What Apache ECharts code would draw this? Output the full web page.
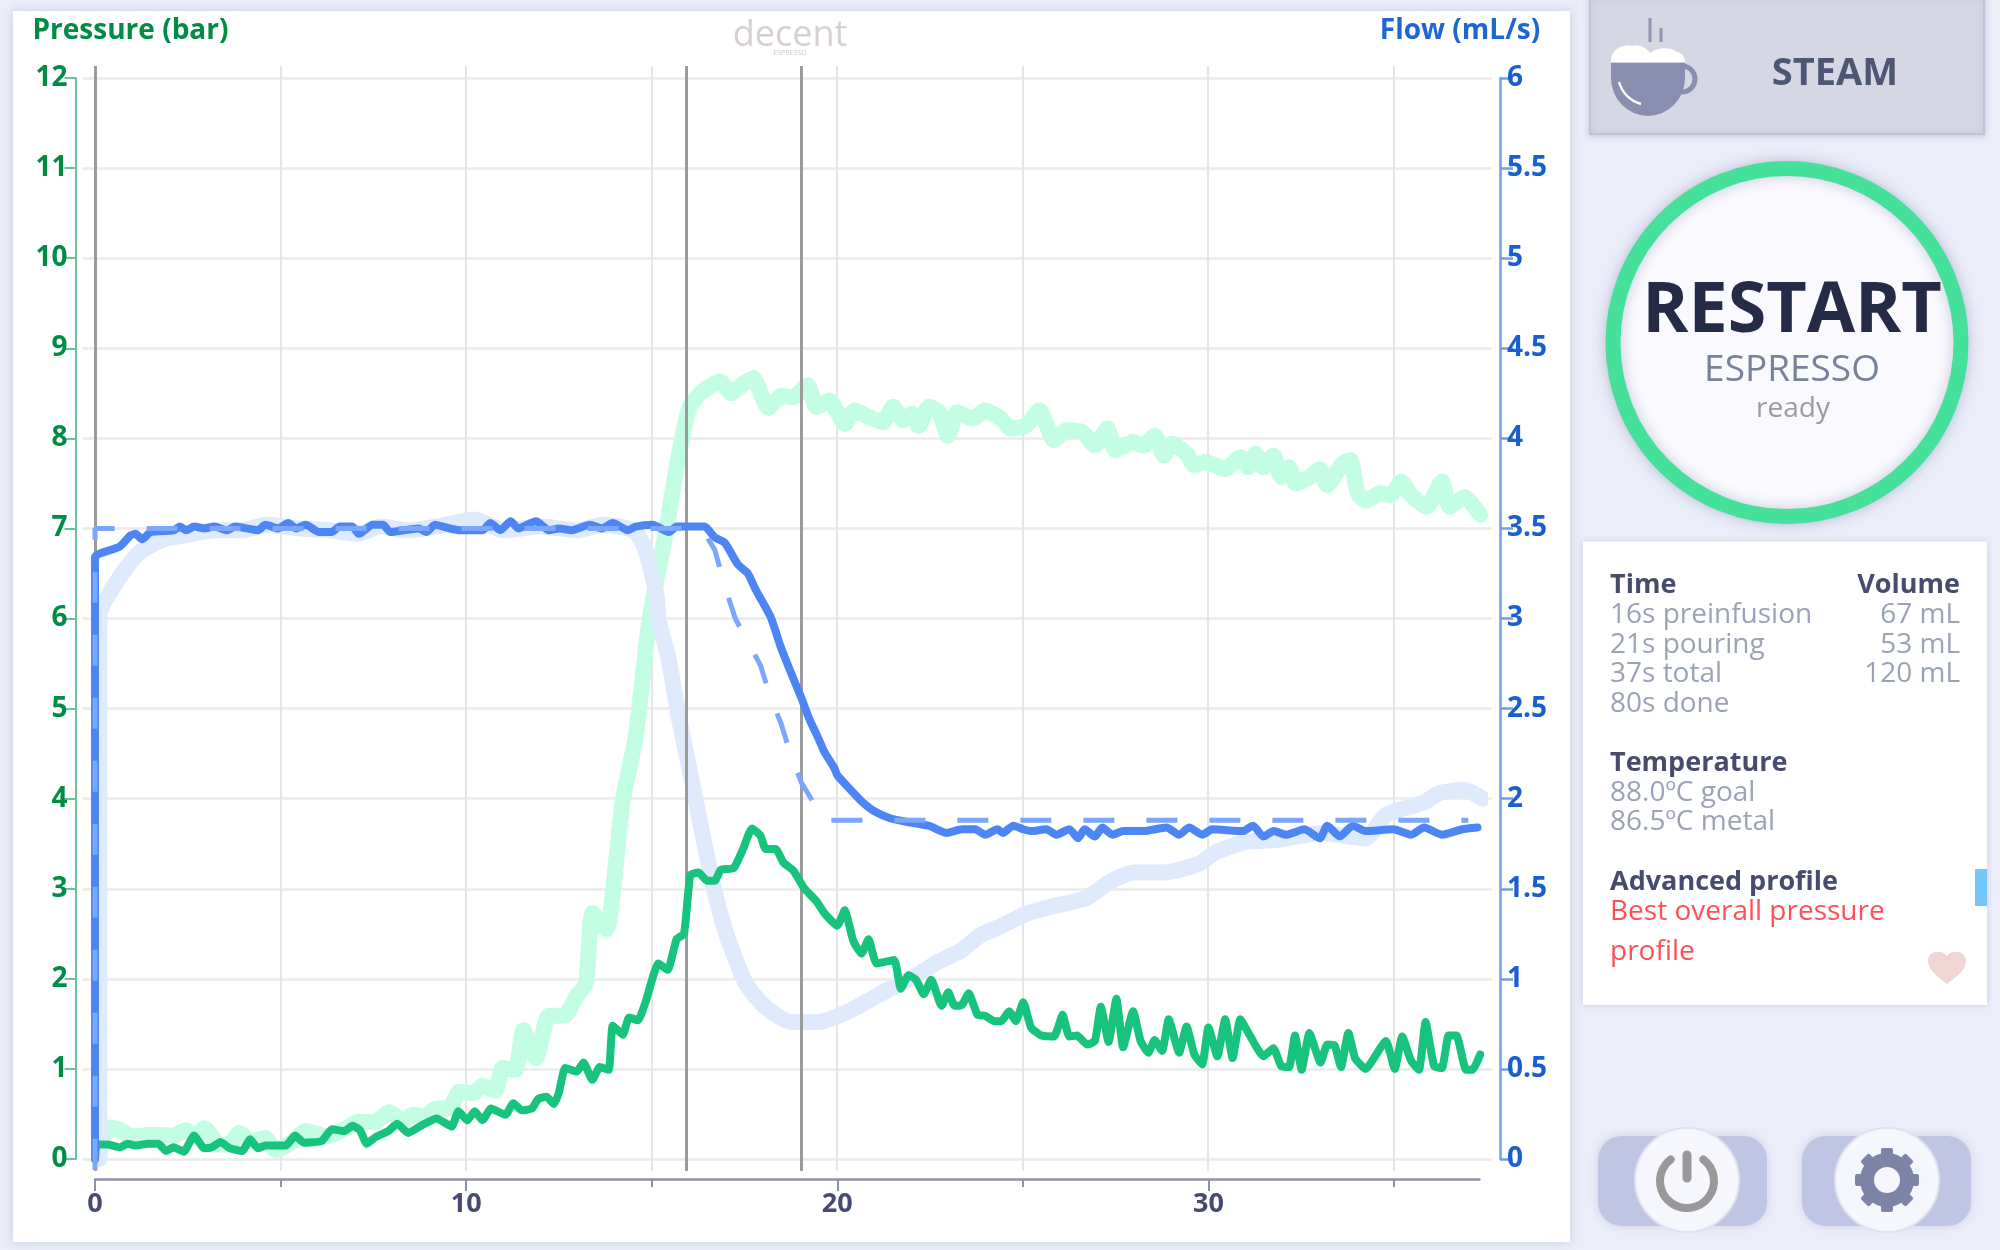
<!DOCTYPE html>
<html><head><meta charset="utf-8">
<style>html,body{margin:0;padding:0;background:#ebedf9}#c{width:2000px;height:1250px}</style>
<script src="https://cdn.jsdelivr.net/npm/echarts@6/dist/echarts.min.js"></script>
</head><body><div id="c"></div>
<script>
const FONT = '"Open Sans"';
const xMajorTicks = [0,10,20,30];
const xMinorTicks = [5,15,25,35];
const xGridTicks = [0,5,10,15,20,25,30,35];
const pressureTicks = [0,1,2,3,4,5,6,7,8,9,10,11,12];
const flowTicks = [0,0.5,1,1.5,2,2.5,3,3.5,4,4.5,5,5.5,6];
const stepTimes = [0,15.93,19.04];

const pressureGoalBand = [[0.25,0.25],[0.4,0.35],[0.67,0.32],[1.02,0.25],[1.57,0.27],[2.12,0.26],[2.46,0.32],[2.7,0.25],[2.94,0.34],[3.36,0.16],[3.63,0.17],[3.9,0.29],[4.18,0.2],[4.59,0.23],[4.87,0.1],[5.28,0.18],[5.69,0.31],[6.24,0.25],[6.8,0.35],[7.07,0.41],[7.55,0.41],[7.92,0.52],[8.31,0.43],[8.58,0.49],[8.86,0.47],[9.2,0.56],[9.55,0.56],[9.82,0.75],[10.17,0.73],[10.44,0.81],[10.78,0.76],[10.99,1.01],[11.33,0.99],[11.54,1.43],[11.88,1.12],[12.23,1.59],[12.64,1.59],[12.98,1.81],[13.23,1.95],[13.4,2.73],[13.78,2.55],[13.95,2.95],[14.22,3.98],[14.57,4.69],[14.94,5.99],[15.39,6.98],[15.67,7.68],[16.01,8.34],[16.36,8.52],[16.84,8.63],[17.14,8.5],[17.39,8.58],[17.73,8.67],[18.14,8.34],[18.49,8.47],[18.82,8.46],[19.2,8.59],[19.44,8.35],[19.79,8.42],[20.2,8.16],[20.47,8.31],[20.82,8.24],[21.23,8.18],[21.5,8.35],[21.78,8.2],[22,8.27],[22.19,8.14],[22.47,8.35],[22.74,8.29],[22.98,8.03],[23.23,8.29],[23.64,8.22],[23.98,8.31],[24.4,8.22],[24.67,8.11],[25.08,8.14],[25.45,8.31],[25.84,7.98],[26.18,8.09],[26.6,8.07],[26.94,7.92],[27.28,8.11],[27.49,7.87],[27.97,7.96],[28.25,7.92],[28.55,8.03],[28.8,7.81],[29,7.94],[29.41,7.83],[29.62,7.7],[29.9,7.74],[30.45,7.66],[30.86,7.79],[31.07,7.68],[31.27,7.83],[31.48,7.68],[31.75,7.81],[31.96,7.57],[32.17,7.68],[32.35,7.5],[32.72,7.57],[33,7.66],[33.2,7.48],[33.61,7.72],[33.82,7.76],[34.02,7.39],[34.23,7.31],[34.64,7.39],[34.91,7.37],[35.19,7.52],[35.46,7.37],[35.88,7.24],[36.29,7.52],[36.5,7.24],[36.9,7.35],[37.32,7.15]];

const flowBand = [[0.12,0],[0.12,3.02],[0.6,3.21],[1.16,3.36],[1.84,3.44],[2.4,3.46],[3.2,3.49],[4.0,3.49],[4.6,3.52],[5.5,3.5],[6.3,3.49],[7.07,3.47],[7.7,3.51],[8.4,3.49],[9.2,3.51],[10.23,3.55],[11,3.49],[12,3.51],[13,3.49],[13.67,3.52],[14.5,3.49],[14.8,3.4],[15.12,3.14],[15.19,2.99],[15.46,2.77],[15.74,2.44],[16.08,2.1],[16.36,1.81],[16.7,1.48],[17.04,1.23],[17.52,0.98],[17.93,0.87],[18.27,0.81],[18.75,0.76],[19.5,0.76],[19.98,0.79],[20.68,0.86],[21.37,0.94],[22.06,1.01],[22.68,1.09],[23.36,1.16],[23.84,1.24],[24.39,1.29],[25.08,1.36],[25.77,1.4],[26.73,1.45],[27.28,1.53],[27.97,1.59],[28.8,1.59],[29.76,1.64],[30.17,1.7],[30.99,1.76],[31.82,1.77],[33.06,1.81],[34.23,1.78],[34.78,1.91],[35.81,1.98],[36.22,2.03],[36.9,2.05],[37.39,2.0]];

const flowGoal = [[0,-0.06],[0,3.5],[16.35,3.5],[16.7,3.38],[16.97,3.18],[17.25,3.0],[17.93,2.74],[18.2,2.56],[18.48,2.42],[18.75,2.24],[19.03,2.09],[19.44,1.95],[19.65,1.95],[19.79,1.88],[37,1.88]];

const flowActual = [[0,0],[0,3.34],[0.12,3.36],[0.67,3.4],[0.95,3.46],[1.09,3.47],[1.27,3.44],[1.5,3.48],[2.12,3.49],[2.28,3.51],[2.46,3.49],[2.67,3.51],[2.95,3.5],[3.22,3.51],[3.56,3.49],[3.77,3.51],[4.39,3.49],[4.59,3.52],[4.94,3.5],[5.21,3.53],[5.42,3.5],[5.67,3.52],[6.04,3.48],[6.38,3.48],[6.59,3.51],[6.93,3.51],[7.11,3.47],[7.48,3.52],[7.76,3.52],[7.96,3.48],[8.72,3.5],[8.93,3.48],[9.16,3.52],[9.55,3.5],[9.82,3.49],[10.44,3.49],[10.65,3.53],[10.92,3.49],[11.2,3.54],[11.4,3.5],[11.88,3.54],[12.23,3.49],[12.5,3.5],[12.85,3.49],[13.33,3.52],[13.67,3.5],[13.95,3.53],[14.36,3.49],[14.57,3.51],[15.02,3.52],[15.46,3.48],[15.67,3.51],[16.42,3.51],[16.7,3.45],[16.97,3.42],[17.32,3.3],[17.59,3.25],[17.8,3.16],[18.2,3.01],[18.48,2.84],[18.75,2.7],[19.03,2.56],[19.23,2.45],[19.5,2.33],[19.65,2.26],[19.92,2.17],[20,2.13],[20.4,2.04],[20.68,1.98],[21,1.93],[21.44,1.89],[21.9,1.87],[22.46,1.85],[22.95,1.81],[23.36,1.83],[23.71,1.83],[23.98,1.8],[24.32,1.83],[24.46,1.81],[24.74,1.85],[25.01,1.83],[25.22,1.82],[25.63,1.83],[25.9,1.8],[26.25,1.83],[26.49,1.78],[26.66,1.83],[26.94,1.79],[27.14,1.84],[27.41,1.8],[27.7,1.82],[28.25,1.82],[28.87,1.84],[29.21,1.8],[29.48,1.84],[29.83,1.8],[30.1,1.83],[30.93,1.82],[31.2,1.85],[31.48,1.79],[31.75,1.82],[32.1,1.8],[32.58,1.83],[33,1.78],[33.2,1.85],[33.54,1.79],[33.89,1.85],[34.23,1.82],[34.98,1.83],[35.46,1.8],[35.81,1.84],[36.29,1.8],[36.84,1.83],[37.25,1.84]];

const pressureActual = [[0,0],[0.05,0.16],[0.33,0.16],[0.67,0.13],[0.88,0.17],[1.09,0.15],[1.43,0.17],[1.71,0.17],[1.91,0.09],[2.12,0.13],[2.39,0.08],[2.67,0.26],[2.94,0.12],[3.15,0.13],[3.38,0.19],[3.63,0.12],[3.97,0.09],[4.18,0.22],[4.39,0.12],[4.59,0.15],[5.14,0.15],[5.39,0.26],[5.63,0.18],[6.11,0.2],[6.38,0.33],[6.73,0.31],[6.93,0.37],[7.14,0.32],[7.32,0.17],[7.55,0.24],[7.9,0.31],[8.14,0.39],[8.44,0.29],[8.79,0.37],[9.2,0.45],[9.61,0.36],[9.79,0.53],[10.03,0.43],[10.23,0.53],[10.44,0.43],[10.67,0.56],[11.06,0.49],[11.27,0.62],[11.5,0.54],[11.77,0.56],[11.95,0.67],[12.16,0.69],[12.37,0.61],[12.5,0.74],[12.67,1.01],[12.98,0.97],[13.16,1.07],[13.4,0.88],[13.6,1.02],[13.84,0.99],[13.95,1.48],[14.22,1.38],[14.39,1.57],[14.63,1.54],[14.84,1.75],[15.18,2.17],[15.43,2.1],[15.67,2.44],[15.87,2.5],[16.04,3.15],[16.26,3.18],[16.49,3.09],[16.7,3.09],[16.86,3.21],[17.21,3.23],[17.46,3.44],[17.7,3.67],[17.93,3.59],[18.07,3.44],[18.34,3.44],[18.55,3.29],[18.82,3.2],[19.1,3.01],[19.44,2.86],[19.65,2.73],[20,2.59],[20.2,2.76],[20.43,2.42],[20.65,2.28],[20.84,2.44],[21.06,2.17],[21.53,2.21],[21.71,1.89],[21.92,2.04],[22.12,1.99],[22.33,1.83],[22.53,1.99],[22.81,1.7],[22.99,1.85],[23.16,1.7],[23.36,1.71],[23.54,1.84],[23.78,1.6],[23.98,1.59],[24.23,1.53],[24.42,1.53],[24.63,1.64],[24.81,1.53],[25.01,1.74],[25.22,1.46],[25.5,1.37],[25.84,1.36],[26.07,1.6],[26.25,1.36],[26.46,1.37],[26.73,1.27],[26.94,1.31],[27.1,1.69],[27.31,1.3],[27.52,1.78],[27.7,1.24],[27.97,1.64],[28.17,1.31],[28.38,1.18],[28.55,1.32],[28.75,1.2],[28.93,1.55],[29.21,1.18],[29.41,1.47],[29.62,1.16],[29.83,1.05],[30,1.46],[30.24,1.14],[30.45,1.55],[30.65,1.12],[30.86,1.55],[31.13,1.36],[31.48,1.14],[31.75,1.23],[31.96,1.03],[32.17,1.02],[32.33,1.37],[32.51,0.99],[32.72,1.4],[33.02,1.07],[33.2,1.27],[33.4,1.26],[33.57,1.02],[33.77,1.4],[33.95,1.12],[34.23,1],[34.78,1.31],[35.02,1],[35.22,1.36],[35.46,1.09],[35.67,0.99],[35.85,1.52],[36.08,1.03],[36.29,1.01],[36.47,1.37],[36.68,1.37],[36.94,0.99],[37.12,0.99],[37.32,1.16]];

const infoLeft = [['Time',585,true],['16s preinfusion',615],['21s pouring',645],['37s total',674],['80s done',704],['Temperature',763,true],['88.0ºC goal',793],['86.5ºC metal',822.5],['Advanced profile',882,true]];
const infoRight = [['Volume',585,true],['67 mL',615],['53 mL',645],['120 mL',674]];
const infoRed = [['Best overall pressure',912],['profile',952]];

const reg = (name,d) => echarts.graphic.registerShape(name, echarts.graphic.extendPath(d,{}));
reg('cupBody','M1611 63 L1685 63 L1685 78 A37 38 0 0 1 1611 78 Z');
reg('cupFoam','M1611 62 C1610 50 1622 44 1632 46 C1642 44 1648 50 1650 53 C1660 46 1672 48 1677 52 C1683 53 1685 58 1685 62 Z');
reg('cupShine','M1619 82 C1622 92 1628 100 1641 104');
reg('heart','M1947 984 C1935 975 1928 969 1928 961 C1928 951 1941 949 1947 956 C1953 949 1966 951 1966 961 C1966 969 1959 975 1947 984 Z');

const txt = (text,x,y,size,fill,weight,align,z) => ({type:'text',z:z||5,silent:true,style:{text,x,y,fill,font:`${weight||400} ${size}px ${FONT}`,align:align||'left',verticalAlign:'middle'}});
const gfx = [];
gfx.push({type:'rect',z:-3,silent:true,shape:{x:13,y:11,width:1557,height:1231},style:{fill:'#fff',shadowBlur:10,shadowColor:'rgba(120,125,170,.28)'}});
gfx.push({type:'rect',z:-3,silent:true,shape:{x:1590,y:-4,width:394,height:138},style:{fill:'#d5d8e4',stroke:'#bfc3d6',lineWidth:2,shadowBlur:6,shadowColor:'rgba(120,125,170,.3)',shadowOffsetY:1}});
gfx.push(txt('decent',790,36,36,'#d6d0ce',400,'center'));
gfx.push(txt('ESPRESSO',790,53,7,'#cfc9c7',400,'center'));
gfx.push({type:'line',silent:true,z:5,shape:{x1:1650,y1:18,x2:1650,y2:42},style:{stroke:'#8f94b0',lineWidth:3}});
gfx.push({type:'line',silent:true,z:5,shape:{x1:1661,y1:28,x2:1661,y2:42},style:{stroke:'#8f94b0',lineWidth:3}});
gfx.push({type:'circle',silent:true,z:5,shape:{cx:1682,cy:79,r:13},style:{fill:'none',stroke:'#8a8eae',lineWidth:5}});
gfx.push({type:'cupBody',silent:true,z:6,style:{fill:'#8a8eae'}});
gfx.push({type:'cupFoam',silent:true,z:6,style:{fill:'#fff'}});
gfx.push({type:'cupShine',silent:true,z:7,style:{fill:'none',stroke:'#fff',lineWidth:2.5}});
gfx.push(txt('STEAM',1835,74,38,'#4f5674',700,'center'));
gfx.push({type:'circle',silent:true,z:-2,shape:{cx:1787,cy:342.6,r:174},style:{fill:'#f9f9fe',stroke:'#45e09a',lineWidth:15,shadowBlur:14,shadowColor:'rgba(110,115,160,.35)'}});
gfx.push(txt('RESTART',1792,312,70,'#252a46',700,'center'));
gfx.push(txt('ESPRESSO',1792,370,37,'#76829a',400,'center'));
gfx.push(txt('ready',1793,409,28,'#9b9b9b',400,'center'));
gfx.push({type:'rect',z:-2,silent:true,shape:{x:1583,y:541.5,width:404,height:463.5},style:{fill:'#fff',shadowBlur:6,shadowColor:'rgba(120,125,170,.28)'}});
infoLeft.forEach(r=>gfx.push(txt(r[0],1610,r[1],r[2]?27:28,r[2]?'#474c6c':'#9aa3b6',r[2]?700:400)));
infoRight.forEach(r=>gfx.push(txt(r[0],1960,r[1],r[2]?27:28,r[2]?'#474c6c':'#9aa3b6',r[2]?700:400,'right')));
infoRed.forEach(r=>gfx.push(txt(r[0],1610,r[1],28,'#ff4f58',400)));
gfx.push({type:'rect',silent:true,z:5,shape:{x:1975,y:869,width:12,height:37},style:{fill:'#72c6fb'}});
gfx.push({type:'heart',silent:true,z:5,style:{fill:'#f0d6d3'}});
[1598,1802].forEach(x=>gfx.push({type:'rect',silent:true,z:-2,shape:{x,y:1136,width:169,height:90,r:24},style:{fill:'#bfc5e3',shadowBlur:8,shadowColor:'rgba(120,125,170,.25)'}}));
[1687,1887].forEach(cx=>gfx.push({type:'circle',silent:true,z:-1,shape:{cx,cy:1180,r:52},style:{fill:'#f6f7fd',stroke:'#dfe2f0',lineWidth:2}}));
gfx.push({type:'arc',silent:true,z:5,shape:{cx:1687,cy:1181,r:27,startAngle:-Math.PI/2+0.65,endAngle:-Math.PI/2-0.65+2*Math.PI},style:{fill:'none',stroke:'#999',lineWidth:8,lineCap:'round'}});
gfx.push({type:'line',silent:true,z:5,shape:{x1:1687,y1:1155,x2:1687,y2:1178},style:{stroke:'#999',lineWidth:9,lineCap:'round'}});
gfx.push({type:'circle',silent:true,z:5,shape:{cx:1887,cy:1180,r:20},style:{fill:'none',stroke:'#7d84a8',lineWidth:14}});
for(let i=0;i<8;i++){const a=i*Math.PI/4;gfx.push({type:'rect',silent:true,z:5,x:1887,y:1180,rotation:a,shape:{x:-6,y:-32,width:12,height:12,r:2},style:{fill:'#7d84a8'}});}

const chart = echarts.init(document.getElementById('c'),null,{renderer:'canvas'});
const base = {type:'line',showSymbol:false,symbol:'none',xAxisIndex:0,silent:true,animation:false,smooth:0.2,lineStyle:{cap:'round',join:'round'}};
chart.setOption({
  animation:false,
  backgroundColor:'#ebedf9',
  graphic:{elements:gfx},
  grid:[
    {left:95,top:78,width:1384.4,height:1081,outerBoundsMode:'none'},
    {left:82.6,top:66,width:1409.4,height:1105,outerBoundsMode:'none'}
  ],
  xAxis:[
    {type:'value',gridIndex:0,position:'bottom',min:0,max:37.3,offset:20,splitLine:{show:false},
      axisLine:{show:true,onZero:false,lineStyle:{color:'#8e90a8',width:2.5}},
      axisTick:{show:true,customValues:xMajorTicks,length:12,lineStyle:{color:'#8e90a8',width:2}},
      axisLabel:{customValues:xMajorTicks,margin:12,color:'#454a6e',fontFamily:FONT,fontSize:27,fontWeight:700}},
    {type:'value',gridIndex:0,position:'bottom',min:0,max:37.3,offset:20,splitLine:{show:false},
      axisLine:{show:false,onZero:false},
      axisTick:{show:true,customValues:xMinorTicks,length:8,lineStyle:{color:'#8e90a8',width:2}},
      axisLabel:{show:false}},
    {type:'value',gridIndex:1,min:-0.334,max:37.65,axisLine:{show:false,onZero:false},
      axisTick:{show:false,customValues:xGridTicks},axisLabel:{show:false},
      splitLine:{show:true,lineStyle:{color:'#e6e6e6',width:2}}}
  ],
  yAxis:[
    {type:'value',gridIndex:0,position:'left',min:0,max:12,interval:1,offset:19.5,splitLine:{show:false},
      name:'Pressure (bar)',nameLocation:'end',nameGap:33,
      nameTextStyle:{color:'#008c44',fontFamily:FONT,fontSize:28,fontWeight:700,align:'center',padding:[0,0,0,110]},
      axisLine:{show:true,onZero:false,lineStyle:{color:'#6cc39a',width:2}},
      axisTick:{show:true,length:11,lineStyle:{color:'#6cc39a',width:2}},
      axisLabel:{margin:8,padding:[5,0,0,0],color:'#008c44',fontFamily:FONT,fontSize:28,fontWeight:700}},
    {type:'value',gridIndex:0,position:'right',min:0,max:6,interval:0.5,offset:20.6,splitLine:{show:false},
      name:'Flow (mL/s)',nameLocation:'end',nameGap:33,
      nameTextStyle:{color:'#1d66d6',fontFamily:FONT,fontSize:28,fontWeight:700,align:'center',padding:[0,80,0,0]},
      axisLine:{show:true,onZero:false,lineStyle:{color:'#6f9fe8',width:2.5}},
      axisTick:{show:true,length:13,lineStyle:{color:'#6f9fe8',width:2.5}},
      axisLabel:{margin:7,padding:[5,0,0,0],color:'#1a5fd0',fontFamily:FONT,fontSize:28,fontWeight:700,
        formatter:v=>String(v)}},
    {type:'value',gridIndex:1,min:-0.133,max:12.135,axisLine:{show:false,onZero:false},
      axisTick:{show:false,customValues:pressureTicks},axisLabel:{show:false},
      splitLine:{show:true,lineStyle:{color:'#ebebeb',width:2.5}}}
  ],
  series:[
    {type:'line',xAxisIndex:2,yAxisIndex:2,data:[],z:1,silent:true,
      markLine:{silent:true,symbol:'none',animation:false,label:{show:false},
        lineStyle:{color:'#9b9b9b',width:3,type:'solid'},
        data:stepTimes.map(t=>({xAxis:t}))}},
    {...base,name:'Pressure goal',yAxisIndex:0,data:pressureGoalBand,z:3,lineStyle:{...base.lineStyle,color:'#c3fde3',width:16}},
    {...base,name:'Flow band',yAxisIndex:1,data:flowBand,z:4,lineStyle:{...base.lineStyle,color:'#e0eafd',width:16}},
    {...base,name:'Pressure',yAxisIndex:0,data:pressureActual,z:6,smooth:0.15,lineStyle:{...base.lineStyle,color:'#18c37e',width:8}},
    {...base,name:'Flow',yAxisIndex:1,data:flowActual,z:7,lineStyle:{...base.lineStyle,color:'#4e85f4',width:8}},
    {...base,name:'Flow goal',yAxisIndex:1,data:flowGoal,z:8,smooth:false,clip:false,lineStyle:{color:'#7aa6fc',width:5,type:[31,32],cap:'butt'}}
  ]
});
</script></body></html>
